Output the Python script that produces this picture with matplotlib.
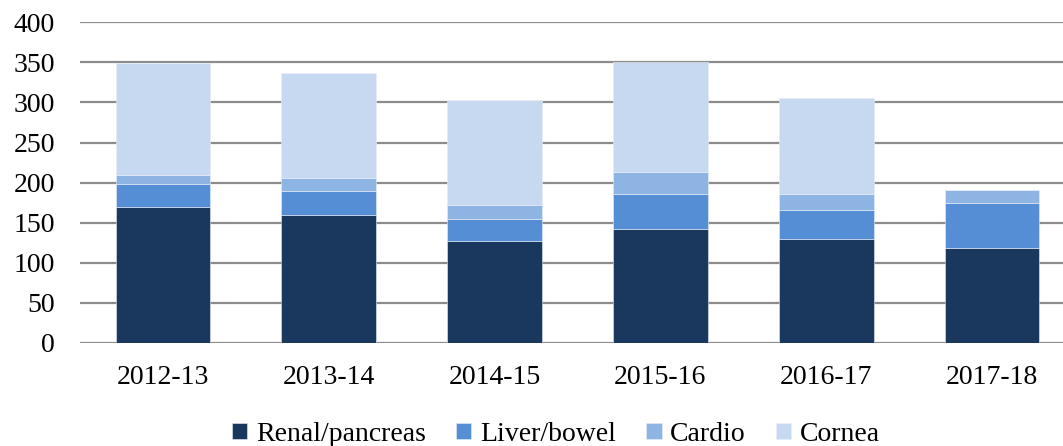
import numpy as np
import matplotlib.pyplot as plt

# data
years = ['2012-13', '2013-14', '2014-15', '2015-16', '2016-17', '2017-18']
renal = [170, 160, 127, 142, 129, 118]
liver = [28, 29, 28, 44, 37, 57]
cardio = [11, 17, 17, 27, 20, 16]
cornea = [140, 131, 131, 137, 119, 0]

series = ['Renal/pancreas', 'Liver/bowel', 'Cardio', 'Cornea']
colors = ['#1A375E', '#558ED5', '#8EB4E3', '#C6D9F1']

plt.rcParams['font.family'] = ['Liberation Serif', 'DejaVu Serif']

W, H = 1063, 446
fig = plt.figure(figsize=(W / 100, H / 100), dpi=100)
# axes extends past the right edge, like the original crop
ax = fig.add_axes([80 / W, (H - 342.7) / H, 995 / W, 320.3 / H])

x = np.arange(len(years))
bottom = np.zeros(len(years))
for name, vals, c in zip(series, [renal, liver, cardio, cornea], colors):
    vals = np.array(vals, dtype=float)
    ax.bar(x, vals, width=0.57, bottom=bottom, color=c, label=name,
           edgecolor='#E8EEF7', linewidth=0.4, zorder=3)
    bottom += vals

ax.set_xlim(-0.5, len(years) - 0.5)
ax.set_ylim(0, 400)
ax.set_yticks(np.arange(0, 401, 50))
ax.set_xticks(x)
ax.set_xticklabels(years)
ax.yaxis.grid(True, color='#8C8C8C', linewidth=1.6, zorder=0)
ax.set_axisbelow(True)
for s in ax.spines.values():
    s.set_visible(False)
ax.tick_params(axis='both', length=0, labelsize=20, colors='black')
ax.tick_params(axis='y', pad=18)
ax.tick_params(axis='x', pad=16)

fig.legend(loc='lower center', bbox_to_anchor=(0.523, -0.058), ncol=4,
           frameon=False, fontsize=20, handlelength=0.55, handleheight=0.55,
           handletextpad=0.3, columnspacing=1.1)

fig.savefig('out.png', dpi=100)
